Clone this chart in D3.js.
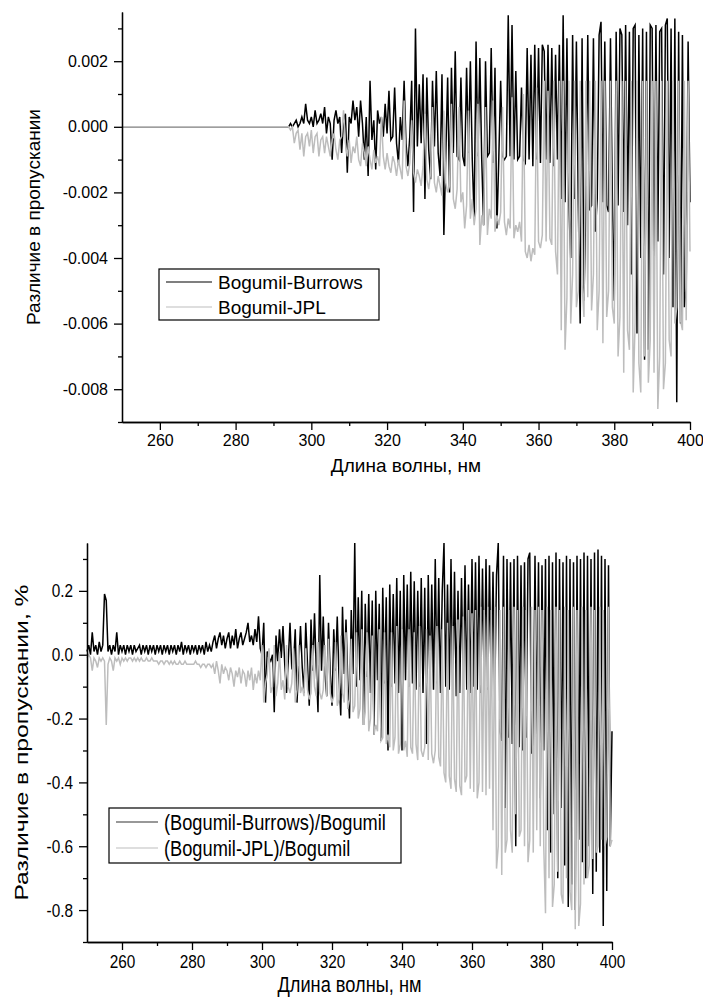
<!DOCTYPE html>
<html>
<head>
<meta charset="utf-8">
<title>Различие в пропускании</title>
<script src="https://cdnjs.cloudflare.com/ajax/libs/d3/7.8.5/d3.min.js"></script>
<style>
  body { margin: 0; background: #fff; }
  svg text { font-family: Arial, "Liberation Sans", sans-serif; fill: #000; }
  .axis path, .axis line { stroke: #000; stroke-width: 1.3px; }
</style>
</head>
<body>
<svg width="703" height="1001"></svg>
<script>
// wavelength grids, nm (0.5 nm step)
const wlTop = [250].concat(d3.range(294, 400.001, 0.5));
const wlBottom = d3.range(250, 400.001, 0.5);

// top panel: transmission difference, units of 1e-4
const topBurrows = [0,
  0, 1, 0, 1, 2, 0, 1, 3, 1, 7,
  2, 1, 3, 0, 5, 1, 2, 4, 1, 6,
  -2, 3, 1, -10, 2, 5, 1, 3, -8, 2,
  4, -14, 3, 1, 8, 2, 6, -3, 8, 1,
  -10, 3, -15, 14, -4, 2, -13, 5, 1, 3,
  -3, 7, -2, 11, -4, -3, 12, -5, -11, 3,
  -4, 14, -5, -12, -3, 14, -26, 30, -6, 13,
  -5, 16, -22, 15, -7, -16, 14, -6, 17, -8,
  -15, 16, -33, -9, 15, -20, 18, -8, 23, -9,
  -10, 15, -9, -12, 18, -8, 20, -10, -28, 26,
  -9, 21, -10, -30, 20, -9, -8, 24, -11, 18,
  -31, -10, 14, -9, -10, -9, 34, -9, 31, -10,
  17, -10, -9, 12, -10, -11, 24, -10, 22, -12,
  25, -10, 24, -11, 25, 23, -10, 25, -11, 24,
  -12, 22, -10, 25, -22, 34, -23, 27, -24, -40,
  28, -22, 26, -24, -60, 27, -53, -23, 28, -25,
  -24, 27, -32, -22, 28, 32, -23, 26, -24, -26,
  27, -22, -53, 29, -24, 30, 28, -26, 31, -30,
  29, -45, 30, 31, -63, 28, -40, 30, -71, 29,
  -68, 31, 30, -50, 31, -35, 29, 30, -45, 31,
  33, -40, 30, -55, 33, -84, 29, -60, 28, -55,
  -49, 26, -23];

const topJPL = [0,
  0, -1, 0, -5, -2, -1, -7, -2, -9, -3,
  -2, -6, -1, -8, -3, -2, -9, -4, -3, -8,
  -3, -6, -9, -4, -2, -7, -10, -4, -3, 5,
  -5, -9, -4, -11, -6, -8, -3, -10, -12, -5,
  -8, -12, -6, -10, -13, -7, -11, -9, -12, 3,
  -9, -13, -8, -12, -14, -9, -11, -15, -10, -13,
  -16, 8, -12, -15, -11, 2, -14, -17, -13, -15,
  -18, -12, 4, -16, -19, -14, 6, -17, -20, -15,
  -18, -21, 5, -17, -20, -18, 7, -22, -25, -19,
  6, -23, -20, -31, -24, 5, -28, -22, -30, -25,
  7, -36, -27, -30, 6, -33, -25, -28, 8, -32,
  -27, -30, -26, 6, -29, -33, -28, -31, 9, -34,
  -30, -32, -29, -35, 10, -38, -40, -36, -41, -37,
  -39, 12, -35, -37, -33, 14, -35, 11, -34, -36,
  14, -38, -45, 14, -62, 14, -68, -52, 14, -60,
  -45, 14, -55, -50, 14, -48, -58, 14, -52, 14,
  -56, -45, 14, -62, -50, 14, -66, 14, -58, -50,
  14, -55, -60, 14, -70, -58, 14, -75, 14, -62,
  -68, 14, -81, -60, 14, -72, -81, 14, -70, 14,
  -78, -65, 14, -75, 14, -86, -70, 14, -80, -72,
  14, -65, -70, 14, -60, -55, 14, -59, -62, 14,
  -59, 14, -38];

// bottom panel: relative difference, units of 0.01 %
const relBurrows = [
  1, 3, 0, 7, 1, 3, 0, 4, 1, 3,
  19, 17, 1, 3, 0, 3, 1, 7, 0, 3,
  1, 3, 0, 3, 1, 3, 0, 3, 1, 2,
  3, 0, 3, 1, 3, 0, 3, 1, 3, 0,
  3, 1, 3, 0, 3, 1, 3, 0, 3, 1,
  3, 0, 3, 1, 4, 0, 3, 1, 3, 0,
  3, 1, 3, 0, 3, 1, 3, 0, 4, 1,
  3, 1, 4, 6, 2, 5, 7, 3, 6, 2,
  5, 7, 2, 6, 3, 8, 2, 5, 7, 3,
  5, 7, 10, 4, 6, 3, 8, 4, 12, 2,
  0, 10, -15, 1, -1, -2, 0, -18, 6, -2,
  8, -1, 9, -3, -12, -2, 10, -4, -3, 8,
  -15, -3, 9, -4, -12, 10, -3, -16, 11, -5,
  13, -4, -18, 25, -5, 12, -6, -13, 10, -6,
  -16, 8, -5, 12, -7, -19, 15, -6, 11, -8,
  -20, 14, -6, 35, -10, 18, -8, 20, -22, 16,
  -7, 19, -12, 17, -25, 20, -8, 16, -27, 21,
  -9, 18, -30, 22, -10, 19, -9, 24, -12, 20,
  -30, 25, -8, 22, -10, 26, -9, 23, -11, 20,
  -10, 24, -12, 21, -28, 25, -10, 22, -11, 30,
  -9, 24, -12, 20, 35, -10, 22, -11, 30, -12,
  26, -13, 20, -12, 24, -10, 28, -11, 22, -12,
  30, -10, 29, -11, 31, -12, 27, -10, 30, -11,
  28, -12, 26, -13, 25, 35, -24, -27, 31, -48,
  30, -26, 29, -28, 30, -60, 31, -29, 28, -30,
  29, -26, 30, 32, -31, -28, 31, -27, 29, -45,
  28, -30, 30, -55, 31, -62, 29, -50, 32, -70,
  30, -48, 29, -66, 31, -79, 30, -72, 29, -80,
  31, -58, 30, -65, 32, -70, 31, -60, 30, -75,
  32, -68, 33, -62, 31, -85, 30, -74, 28, -60,
  -24];

const relJPL = [
  -1, 0, -1, -5, -1, -2, -4, -1, -2, -1,
  -2, -22, -3, -1, -2, -5, -1, -2, -1, -3,
  -1, -2, -1, -2, -1, -1, -2, -1, -2, -1,
  -2, -1, -2, -2, -1, -2, -2, -1, -2, -2,
  -2, -3, -2, -2, -3, -2, -2, -3, -2, -3,
  -2, -3, -3, -2, -3, -3, -2, -3, -3, -3,
  -3, -3, -2, -3, -3, -4, -3, -3, -4, -3,
  -3, -4, -3, -6, -2, -5, -9, -3, -6, -4,
  -5, -8, -4, -6, -10, -5, -7, -4, -9, -5,
  -6, -10, -5, -8, -4, -11, -6, -9, -5, -8,
  3, -15, -9, -6, 2, -12, -10, 3, -13, -9,
  1, -11, -8, -14, 3, -10, -12, -9, 2, -15,
  -11, 3, -12, -10, -13, 2, -11, -14, -12, 3,
  -10, -13, 4, -12, -14, -11, 3, -13, 5, -12,
  -15, -13, 4, -16, -14, 6, -12, -15, 7, -17,
  -14, 5, -18, -16, 7, -20, -17, 8, -22, -18,
  7, -24, -20, 6, -25, -22, -24, 8, -27, -26,
  7, -28, -25, -29, 7, -30, -26, 9, -31, -28,
  8, -30, -27, -32, 8, -29, -31, 7, -28, -33,
  9, -30, -32, -29, 8, -33, 6, -31, -34, -30,
  9, -32, -35, 8, -37, -40, 10, -38, -42, 9,
  -39, -43, 11, -41, -44, 12, -40, -38, 14, -42,
  13, -43, 14, -45, -40, 15, -43, 14, -44, 15,
  -42, 14, -55, 15, -67, -60, 14, -69, 15, -62,
  -58, 14, -55, -62, 15, -50, 14, -57, -55, 15,
  -60, 14, -65, -58, 15, -62, 14, -55, 15, -60,
  14, -60, -81, 15, -70, 14, -79, -72, 15, -68,
  14, -75, -78, 15, -70, 14, -74, -80, 15, -86,
  14, -85, -78, 15, -72, 14, -70, -66, 15, -64,
  14, -62, -60, 15, -58, 14, -60, -57, 15, -60,
  -58];

// axis ticks
const xMajor = [260, 280, 300, 320, 340, 360, 380, 400];
const xMinor = [270, 290, 310, 330, 350, 370, 390];
const yMajor = [-80, -60, -40, -20, 0, 20];
const yMinor = [-90, -70, -50, -30, -10, 10, 30];

const svg = d3.select("svg");

function drawPanel(p) {
  const x = d3.scaleLinear().domain([250, 400]).range(p.xRange);
  const y = d3.scaleLinear().domain([-90, 35]).range(p.yRange);
  const g = svg.append("g");
  const [sx, sy] = p.textScale;

  // lines: black first, grey drawn over it
  const line = d3.line().x(d => x(d[0])).y(d => y(d[1]));
  p.series.forEach(s => {
    g.append("path")
      .datum(p.wl.map((w, i) => [w, s.values[i]]))
      .attr("fill", "none")
      .attr("stroke", s.color)
      .attr("stroke-width", 1.5)
      .attr("d", line);
  });

  // axes (major + minor ticks, outward)
  const xb = p.yRange[0];
  const yl = p.xRange[0];
  g.append("g").attr("class", "axis").attr("transform", `translate(0,${xb})`)
    .call(d3.axisBottom(x).tickValues(xMinor).tickSize(4).tickSizeOuter(0).tickFormat(""));
  g.append("g").attr("class", "axis").attr("transform", `translate(0,${xb})`)
    .call(d3.axisBottom(x).tickValues(xMajor).tickSize(8).tickSizeOuter(0).tickPadding(5))
    .call(a => a.selectAll("text").style("font-size", p.tickFont + "px")
      .attr("y", 13 / sy).attr("transform", `scale(${sx},${sy})`));
  g.append("g").attr("class", "axis").attr("transform", `translate(${yl},0)`)
    .call(d3.axisLeft(y).tickValues(yMinor).tickSize(4).tickSizeOuter(0).tickFormat(""));
  g.append("g").attr("class", "axis").attr("transform", `translate(${yl},0)`)
    .call(d3.axisLeft(y).tickValues(yMajor).tickSize(8).tickSizeOuter(0).tickPadding(6).tickFormat(p.fmt))
    .call(a => a.selectAll("text").style("font-size", p.tickFont + "px")
      .attr("x", -14 / sx).attr("transform", `scale(${sx},${sy})`));

  // axis titles
  g.append("text")
    .attr("transform", `translate(${(p.xRange[0] + p.xRange[1]) / 2},${p.xTitleY}) scale(${sx},${sy})`)
    .attr("text-anchor", "middle").style("font-size", p.titleFont + "px")
    .text("Длина волны, нм");
  g.append("text")
    .attr("transform", `translate(${p.yTitleX},${(p.yRange[0] + p.yRange[1]) / 2}) rotate(-90) scale(${p.yTitleStretch},${sx})`)
    .attr("text-anchor", "middle").style("font-size", p.titleFont + "px")
    .text(p.yTitle);

  // legend
  const L = p.legend;
  g.append("rect")
    .attr("x", L.x).attr("y", L.y).attr("width", L.w).attr("height", L.h)
    .attr("fill", "#fff").attr("stroke", "#000").attr("stroke-width", 1.2);
  p.series.forEach((s, i) => {
    const ry = L.y + L.row0 + i * L.step;
    g.append("line")
      .attr("x1", L.x + 7).attr("x2", L.x + 7 + L.lineLen)
      .attr("y1", ry).attr("y2", ry)
      .attr("stroke", s.legendColor || s.color).attr("stroke-width", 1.2);
    g.append("text")
      .attr("transform", `translate(${L.x + 13 + L.lineLen},${ry}) scale(${sx},${sy})`)
      .attr("dy", "0.35em").style("font-size", L.font + "px")
      .text(s.name);
  });
}

drawPanel({
  wl: wlTop,
  xRange: [122, 690], yRange: [422, 12],
  fmt: d => (d / 1e4).toFixed(3),
  tickFont: 16, titleFont: 19, textScale: [1, 1], yTitleStretch: 1,
  xTitleY: 472, yTitleX: 40,
  yTitle: "Различие в пропускании",
  series: [
    { name: "Bogumil-Burrows", values: topBurrows, color: "#000" },
    { name: "Bogumil-JPL", values: topJPL, color: "#bdbdbd" }
  ],
  legend: { x: 159, y: 269, w: 220, h: 51, row0: 13, step: 25, lineLen: 46, font: 19 }
});

drawPanel({
  wl: wlBottom,
  xRange: [87, 612], yRange: [942, 543],
  fmt: d => (d / 100).toFixed(1),
  tickFont: 16, titleFont: 19, textScale: [0.96, 1.18], yTitleStretch: 1.3,
  xTitleY: 992, yTitleX: 28,
  yTitle: "Различие в пропускании, %",
  series: [
    { name: "(Bogumil-Burrows)/Bogumil", values: relBurrows, color: "#000", legendColor: "#333" },
    { name: "(Bogumil-JPL)/Bogumil", values: relJPL, color: "#bdbdbd" }
  ],
  legend: { x: 109, y: 808, w: 292, h: 55, row0: 14, step: 26, lineLen: 42, font: 19 }
});
</script>
</body>
</html>
